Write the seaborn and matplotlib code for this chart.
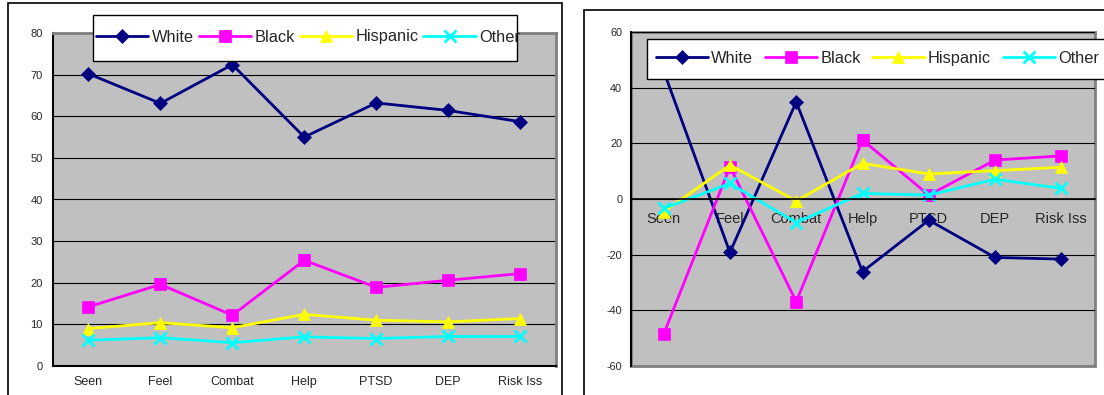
import matplotlib
matplotlib.use("Agg")
import matplotlib.pyplot as plt
import seaborn as sns
import numpy as np
from matplotlib.patches import Rectangle

# ---------------- data ----------------
categories = ["Seen", "Feel", "Combat", "Help", "PTSD", "DEP", "Risk Iss"]
groups = ["White", "Black", "Hispanic", "Other"]

left_white = [70.2, 63.1, 72.4, 55.0, 63.2, 61.4, 58.7]
left_black = [14.2, 19.6, 12.2, 25.4, 18.9, 20.6, 22.2]
left_hispanic = [9.0, 10.4, 9.2, 12.4, 11.0, 10.6, 11.4]
left_other = [6.2, 6.8, 5.6, 7.0, 6.6, 7.1, 7.1]

right_white = [46.0, -19.2, 34.9, -26.1, -7.6, -21.0, -21.6]
right_black = [-48.6, 11.6, -36.9, 21.2, 1.4, 14.0, 15.5]
right_hispanic = [-4.6, 12.2, -0.7, 12.8, 9.0, 10.2, 11.4]
right_other = [-3.4, 5.6, -8.5, 2.0, 1.4, 7.1, 3.8]

left_yticks = [0, 10, 20, 30, 40, 50, 60, 70, 80]
right_yticks = [-60, -40, -20, 0, 20, 40, 60]

# ---------------- style ----------------
sns.set_style("white")
plt.rcParams["font.family"] = ["Liberation Sans", "DejaVu Sans"]
plt.rcParams["axes.unicode_minus"] = False

colors = {"White": "#000080", "Black": "#FF00FF", "Hispanic": "#FFFF00", "Other": "#00FFFF"}
markers = {"White": "D", "Black": "s", "Hispanic": "^", "Other": "x"}
msizes = {"White": 7.0, "Black": 9.0, "Hispanic": 8.5, "Other": 9.0}
mews = {"White": 0.5, "Black": 0.5, "Hispanic": 0.5, "Other": 2.0}

W, H = 1104, 395
fig = plt.figure(figsize=(W / 100, H / 100), dpi=100)
fig.patch.set_facecolor("white")


def fx(px):
    return px / W


def fy(py):
    return 1 - py / H


def axes_px(x0, y0, x1, y1):
    return fig.add_axes([fx(x0), fy(y1), (x1 - x0) / W, (y1 - y0) / H])


def draw_series(ax, series):
    for name, vals in zip(groups, series):
        sns.lineplot(x=categories, y=vals, color=colors[name], marker=markers[name],
                     markersize=msizes[name], markeredgecolor=colors[name],
                     markeredgewidth=mews[name], linewidth=2, sort=False, ax=ax,
                     legend=False)
    return ax.lines[:4]


def style_common(ax, yticks, ylim):
    ax.set_facecolor("#C0C0C0")
    ax.set_xlim(-0.5, 6.5)
    ax.set_ylim(*ylim)
    ax.set_xticks(range(len(categories)))
    ax.set_xticklabels(categories)
    ax.set_xticks(np.arange(-0.5, 7.0, 1.0), minor=True)
    ax.set_yticks(yticks)
    ax.set_xlabel("")
    ax.set_ylabel("")
    ax.yaxis.grid(True, color="black", linewidth=0.8)
    ax.xaxis.grid(False)
    ax.set_axisbelow(True)
    ax.tick_params(axis="x", which="major", length=0)


# ---------------- left chart ----------------
axL = axes_px(52.5, 33, 556, 366)
hL = draw_series(axL, [left_white, left_black, left_hispanic, left_other])
style_common(axL, left_yticks, (0, 80))
axL.tick_params(axis="x", which="major", labelsize=9, pad=7)
axL.tick_params(axis="x", which="minor", direction="out", length=3, width=1, color="black")
axL.tick_params(axis="y", direction="out", length=3, width=1, color="black", labelsize=8, pad=4)
for s in ["left", "bottom"]:
    axL.spines[s].set_color("black")
    axL.spines[s].set_linewidth(1.5)
for s in ["top", "right"]:
    axL.spines[s].set_color("#808080")
    axL.spines[s].set_linewidth(2)
    axL.spines[s].set_visible(True)

# ---------------- right chart ----------------
axR = axes_px(630.5, 32, 1094.5, 366)
hR = draw_series(axR, [right_white, right_black, right_hispanic, right_other])
style_common(axR, right_yticks, (-60, 60))
axR.add_patch(Rectangle((0, 0), 1, 1, transform=axR.transAxes, fill=False,
                        ec="#808080", lw=2, clip_on=False, zorder=0.5))
for s in ["top", "right"]:
    axR.spines[s].set_visible(False)
axR.spines["left"].set_color("black")
axR.spines["left"].set_linewidth(1.5)
axR.spines["bottom"].set_position(("data", 0))
axR.spines["bottom"].set_color("black")
axR.spines["bottom"].set_linewidth(1.2)
axR.tick_params(axis="x", which="major", labelsize=10.5, pad=9)
axR.tick_params(axis="x", which="minor", direction="inout", length=6, width=1, color="black")
axR.tick_params(axis="y", direction="out", length=3, width=1, color="black", labelsize=7.8, pad=3)

# ---------------- legends ----------------
fig.add_artist(Rectangle((fx(93), fy(61)), (517 - 93) / W, (61 - 15) / H,
                         transform=fig.transFigure, fc="white", ec="black", lw=1, zorder=4))
fig.legend(hL, groups, loc="center left", bbox_to_anchor=(fx(96), fy(37)), ncol=4,
           frameon=False, handlelength=3.2, handletextpad=0.2, columnspacing=0.3,
           borderpad=0, borderaxespad=0, fontsize=11.8)

fig.add_artist(Rectangle((fx(647), fy(79)), (1130 - 647) / W, (79 - 39) / H,
                         transform=fig.transFigure, fc="white", ec="black", lw=1, zorder=4))
fig.legend(hR, groups, loc="center left", bbox_to_anchor=(fx(655.5), fy(58.7)), ncol=4,
           frameon=False, handlelength=3.2, handletextpad=0.2, columnspacing=0.7,
           borderpad=0, borderaxespad=0, fontsize=11.8)

# ---------------- outer chart frames ----------------
fig.add_artist(Rectangle((fx(8), fy(405)), (562 - 8) / W, (405 - 3) / H,
                         transform=fig.transFigure, fill=False, ec="black", lw=1.2, zorder=3))
fig.add_artist(Rectangle((fx(583.5), fy(405)), (1130 - 583.5) / W, (405 - 10) / H,
                         transform=fig.transFigure, fill=False, ec="black", lw=1.2, zorder=3))

fig.savefig("out.png", dpi=100)
